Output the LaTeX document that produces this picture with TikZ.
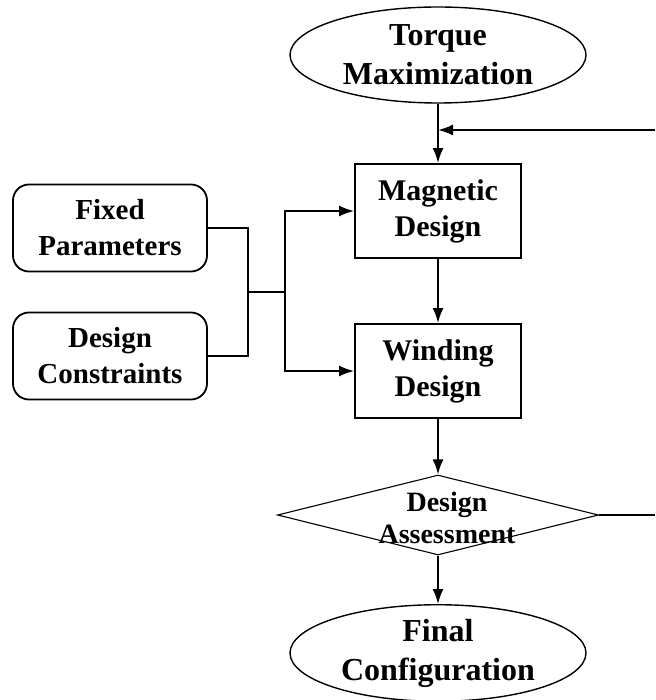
\documentclass[tikz,border=0pt]{standalone}
\usepackage{fontspec}
\setmainfont{Liberation Serif}
\usepackage{tikz}
\usetikzlibrary{positioning,arrows.meta}
\usetikzlibrary{shapes.geometric}

\begin{document}
\begin{tikzpicture}[x=1pt,y=-1pt,
		flow/.style={line width=2pt,-{Latex[length=15pt,width=11pt]}},
		wire/.style={line width=2pt},
		ovalbox/.style={ellipse,draw,line width=1.4pt,minimum width=296pt,minimum height=96pt,inner sep=0pt,align=center,font=\bfseries\fontsize{32}{39}\selectfont},
		designbox/.style={rectangle,draw,line width=1.8pt,minimum width=166pt,minimum height=94pt,inner sep=0pt,align=center,font=\bfseries\fontsize{30}{36}\selectfont},
		inputbox/.style={rectangle,rounded corners=16pt,draw,line width=1.8pt,minimum width=194pt,minimum height=87pt,inner sep=0pt,align=center,font=\bfseries\fontsize{29}{36}\selectfont},
		decision/.style={diamond,draw,line width=1.1pt,minimum width=321pt,minimum height=80pt,inner sep=0pt}]
		
		\useasboundingbox (0,0) rectangle (655,700);
		
		% main column
		\node[ovalbox] (torque) at (438,55) {Torque\\Maximization};
		\node[designbox] (magnetic) at (438,211) {Magnetic\\Design};
		\node[designbox] (winding) at (438,371) {Winding\\Design};
		\node[decision] (assess) at (438,515) {};
		\node[align=center,font=\bfseries\fontsize{28}{32}\selectfont] (assesstext) at (447,518) {Design\\Assessment};
		\node[ovalbox] (final) at (438,653) {Final\\Configuration};
		
		% inputs
		\node[inputbox] (fixed) at (110,228) {Fixed\\Parameters};
		\node[inputbox] (constr) at (110,356) {Design\\Constraints};
		
		\coordinate (join) at (248,292);
		\coordinate (split) at (285,292);
		\coordinate (fbin) at (655,130);
		\coordinate (fbout) at (655,515);
		
		\draw[flow] (torque.south) -- (magnetic.north);
		\draw[flow] (magnetic.south) -- (winding.north);
		\draw[flow] (winding.south) -- (assess.north);
		\draw[flow] (assess.south) -- (final.north);
		
		\draw[wire] (fixed.east) -| (join) |- (constr.east);
		\draw[wire] (join) -- (split);
		\draw[flow] (split) |- (magnetic.west);
		\draw[flow] (split) |- (winding.west);
		
		% loop back
		\draw[wire] (assess.east) -- (fbout);
		\draw[flow] (fbin) -- (fbin -| torque.south);
		
	\end{tikzpicture}
\end{document}
